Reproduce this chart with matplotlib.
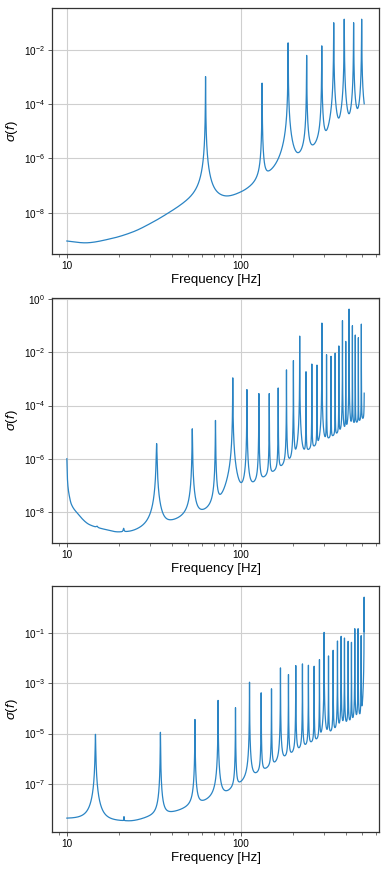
import matplotlib
matplotlib.use("Agg")
import matplotlib.pyplot as plt
import numpy as np
from matplotlib.ticker import FixedLocator, NullLocator, NullFormatter, FuncFormatter

plt.rcParams["font.family"] = ["Liberation Sans", "DejaVu Sans"]
plt.rcParams["mathtext.fontset"] = "custom"
plt.rcParams["mathtext.rm"] = "Liberation Sans"
plt.rcParams["mathtext.it"] = "Liberation Sans:italic"
plt.rcParams["mathtext.bf"] = "Liberation Sans:bold"

F_LO, F_HI = 10.0, 512.0

# --- panel 1: resonance peaks (Hz, log10 of added height) and floor between them
p1_peak_hz = [62.7, 132.5, 187, 239, 292, 342, 393, 445, 495]
p1_peak_log = [-2.99, -3.23, -1.75, -2.21, -1.86, -1.01, -0.88, -1.01, -0.88]
p1_floor_hz = [10, 13, 18, 24, 31, 41, 49, 56, 70, 81, 100, 115, 151, 209, 261, 309, 362, 414, 466, 512]
p1_floor_log = [-9.06, -9.15, -9.02, -8.80, -8.47, -8.05, -7.8, -7.65, -7.5, -7.45, -7.25, -7.05,
                -6.5, -6.0, -5.6, -5.25, -4.95, -4.7, -4.45, -4.45]

# --- panel 2
p2_peak_hz = [14.9, 21.2, 32.8, 52.6, 71.5, 89.9, 108.4, 127, 145.7, 164, 183, 200.6, 218, 237, 256,
              274, 292.5, 311, 330, 348.6, 366, 384, 401, 419, 438, 455, 474, 493, 513]
p2_peak_log = [-9.5, -9.2, -5.43, -4.875, -4.56, -2.96, -3.4, -3.55, -3.55, -3.34, -2.66, -2.31, -1.39,
               -2.73, -2.44, -2.48, -0.90, -2.09, -2.15, -2.03, -1.76, -0.81, -1.59, -0.375, -1.0,
               -1.35, -1.45, -0.94, -1.0]
p2_floor_hz = [10, 10.05, 10.15, 10.3, 10.6, 11.4, 13.5, 16.9, 19.7, 23, 27, 33, 40, 61, 79, 98,
               150, 228, 350, 512]
p2_floor_log = [-6.0, -6.6, -7.05, -7.35, -7.7, -8.02, -8.48, -8.68, -8.78, -8.8, -8.75, -8.62, -8.4,
                -8.0, -7.65, -7.3, -6.55, -5.8, -5.1, -4.5]

# --- panel 3
p3_peak_hz = [14.6, 21.3, 34.5, 54.5, 74, 93.2, 112.2, 130.9, 150.1, 169, 187.9, 207, 226.1, 244.7,
              263.9, 283.2, 301.2, 319.2, 339.4, 359.4, 377.3, 394.3, 414, 432.5, 452, 472.3, 491.8,
              511.5]
p3_peak_log = [-5.03, -8.82, -4.95, -4.44, -3.68, -3.97, -2.956, -3.379, -3.22, -2.388, -2.652, -2.295,
               -2.229, -2.282, -2.322, -2.057, -0.974, -1.912, -1.687, -1.317, -1.132, -1.198, -1.33,
               -1.37, -0.828, -0.828, -1.106, 0.427]
p3_floor_hz = [10, 16, 22.5, 30, 42.7, 62.8, 82.8, 99.5, 167, 250, 350, 512]
p3_floor_log = [-8.42, -8.5, -8.5, -8.35, -8.1, -7.7, -7.35, -7.0, -6.1, -5.4, -4.85, -4.25]


def pchip(x, xp, yp):
    # monotone cubic through the read floor points (log-log)
    xp, yp = np.asarray(xp, float), np.asarray(yp, float)
    h = np.diff(xp)
    delta = np.diff(yp) / h
    m = np.zeros_like(yp)
    for k in range(1, len(xp) - 1):
        if delta[k - 1] * delta[k] > 0:
            w1, w2 = 2 * h[k] + h[k - 1], h[k] + 2 * h[k - 1]
            m[k] = (w1 + w2) / (w1 / delta[k - 1] + w2 / delta[k])
    m[0], m[-1] = delta[0], delta[-1]
    i = np.clip(np.searchsorted(xp, x) - 1, 0, len(xp) - 2)
    t = (x - xp[i]) / h[i]
    h00 = 2 * t**3 - 3 * t**2 + 1
    h10 = t**3 - 2 * t**2 + t
    h01 = -2 * t**3 + 3 * t**2
    h11 = t**3 - t**2
    return h00 * yp[i] + h10 * h[i] * m[i] + h01 * yp[i + 1] + h11 * h[i] * m[i + 1]


def spectrum(peak_hz, peak_log, floor_hz, floor_log, width, reach):
    f = np.geomspace(F_LO, F_HI, 60000)
    f = np.union1d(f, [p for p in peak_hz if p <= F_HI])
    floor = 10 ** pchip(np.log10(f), np.log10(floor_hz), floor_log)
    sig = floor.copy()
    for f0, lg in zip(peak_hz, peak_log):
        d = f - f0
        sig += 10 ** lg / (1 + (d / width(f0)) ** 2) * np.exp(-(d / reach) ** 2)
    return f, sig


panels = [
    (p1_peak_hz, p1_peak_log, p1_floor_hz, p1_floor_log, lambda f0: f0 / 1100.0, 30.0),
    (p2_peak_hz, p2_peak_log, p2_floor_hz, p2_floor_log, lambda f0: 0.12 * (f0 / 30.0) ** -0.3, 14.0),
    (p3_peak_hz, p3_peak_log, p3_floor_hz, p3_floor_log, lambda f0: 0.065 * (f0 / 100.0) ** 0.3, 14.0),
]
yticks = [
    [1e-8, 1e-6, 1e-4, 1e-2],
    [1e-8, 1e-6, 1e-4, 1e-2, 1e0],
    [1e-7, 1e-5, 1e-3, 1e-1],
]
rects = [
    [0.134, 0.7087, 0.843, 0.2821],
    [0.134, 0.3773, 0.843, 0.2810],
    [0.134, 0.0459, 0.843, 0.2821],
]

fig = plt.figure(figsize=(3.88, 8.72), dpi=100)
for (pk_hz, pk_log, fl_hz, fl_log, width, reach), yt, rect in zip(panels, yticks, rects):
    ax = fig.add_axes(rect)
    f, sig = spectrum(pk_hz, pk_log, fl_hz, fl_log, width, reach)
    ax.plot(f, sig, color="#2a84c4", linewidth=0.9)
    ax.set_xscale("log")
    ax.set_yscale("log")

    ax.xaxis.set_major_locator(FixedLocator([10, 100]))
    ax.xaxis.set_major_formatter(FuncFormatter(lambda v, pos: f"{v:g}"))
    ax.xaxis.set_minor_formatter(NullFormatter())
    ax.yaxis.set_major_locator(FixedLocator(yt))
    ax.yaxis.set_minor_locator(NullLocator())

    ax.grid(True, which="major", color="#cfcfcf", linewidth=0.8)
    ax.set_axisbelow(True)
    for sp in ax.spines.values():
        sp.set_color("#333333")
        sp.set_linewidth(0.9)
    ax.tick_params(which="major", length=3, width=0.6, labelsize=7.2, pad=2, color="#444444")
    ax.tick_params(which="minor", length=1.8, width=0.5, color="#444444")
    ax.set_xlabel("Frequency [Hz]", fontsize=9.5, labelpad=2)
    ax.set_ylabel(r"$\sigma(f)$", fontsize=9.5, labelpad=3)

fig.savefig("out.png", dpi=100)
